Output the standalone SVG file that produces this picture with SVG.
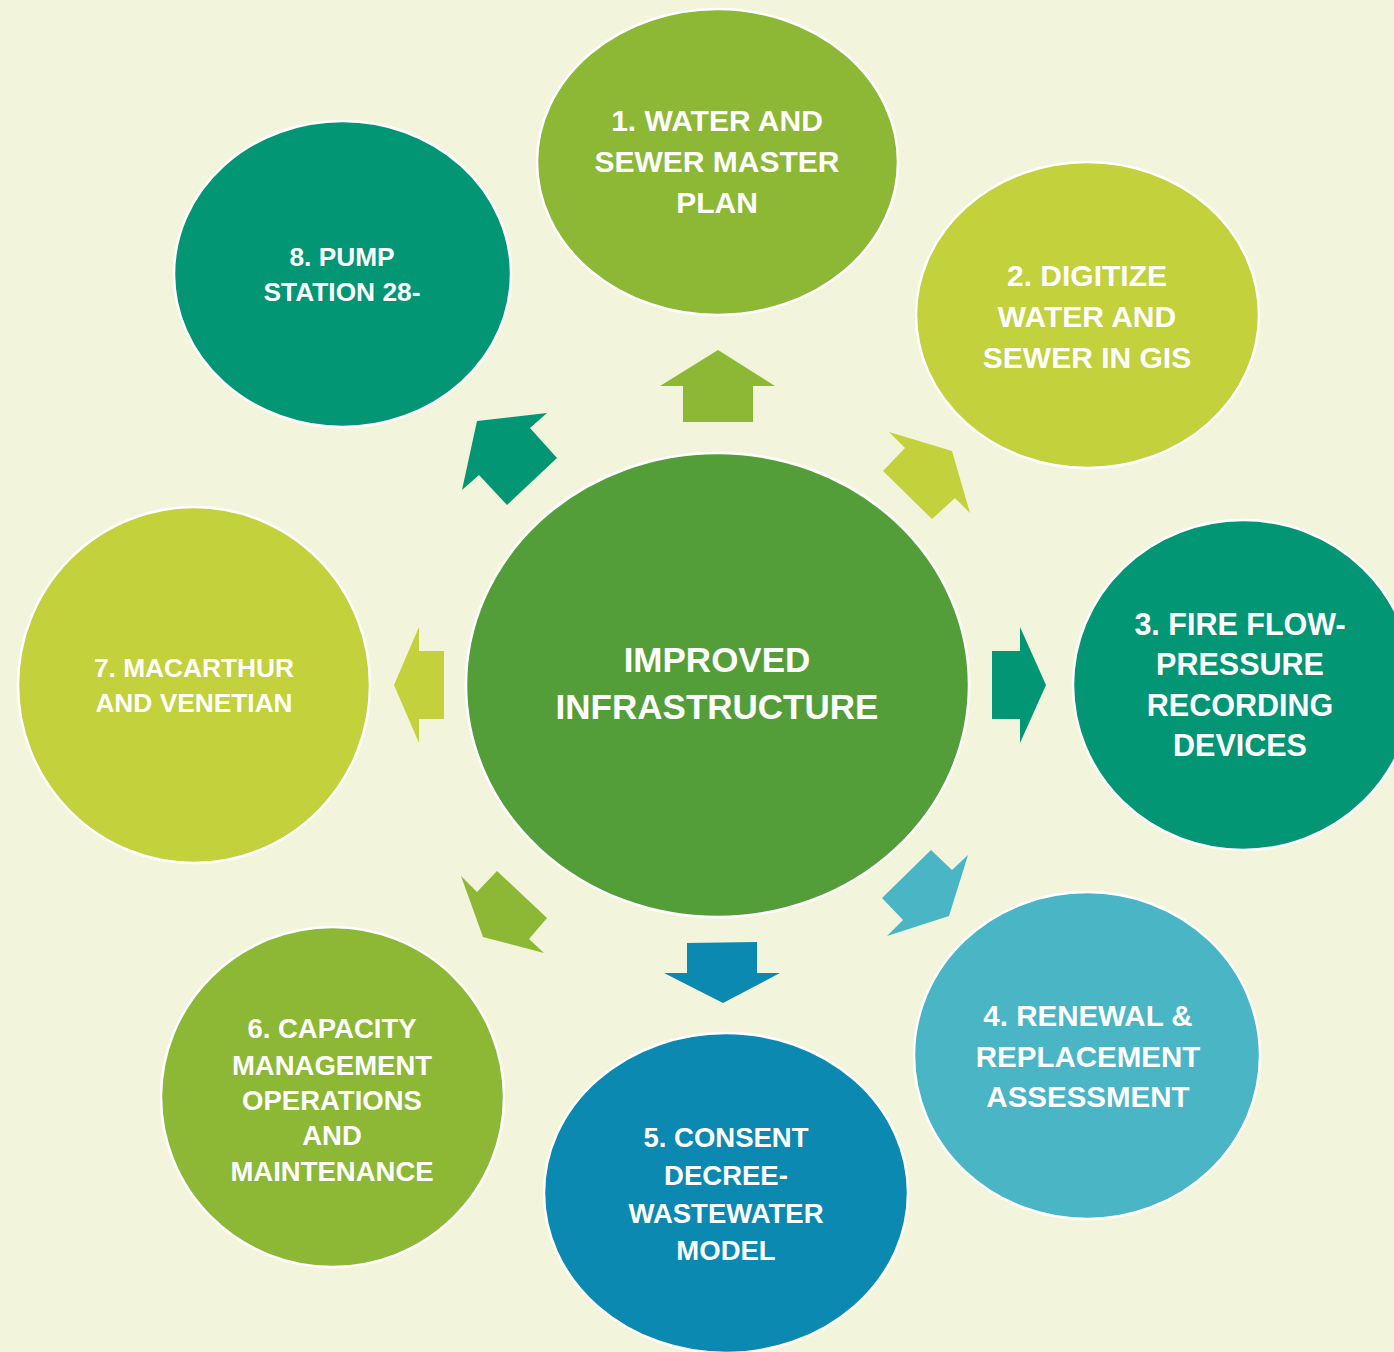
<svg xmlns="http://www.w3.org/2000/svg" width="1394" height="1352" viewBox="0 0 1394 1352">
<style>
.c{stroke:#ffffff;stroke-width:2.5}
.t{font-family:"Liberation Sans",Arial,sans-serif;font-weight:bold;fill:#ffffff;text-anchor:middle}
.g1{fill:#8cb836}.g2{fill:#c2d13c}.g3{fill:#029675}.g4{fill:#4ab5c5}.g5{fill:#0c89b1}.g0{fill:#549e39}
</style>
<rect width="1394" height="1352" fill="#f2f5db"/>
<g id="connectors">
<polygon class="g1" points="718,350 775,386 753,386 753,422 683,422 683,386 660,386"/>
<polygon class="g2" points="889,432 952,451 970,513 955,498 932,519 883,471 905,448"/>
<polygon class="g3" points="1046,685 1020,743 1020,719 992,719 992,651 1020,651 1020,627"/>
<polygon class="g4" points="968,855 949,916 887,936 903,920 882,898 931,850 952,870"/>
<polygon class="g5" points="723,1003 780,973 757,973 757,942 687,943 687,973 664,973"/>
<polygon class="g1" points="461,876 477,892 497,871 547,918 529,939 544,953 483,937"/>
<polygon class="g2" points="394,685 419,627 419,651 444,651 444,719 419,719 419,743"/>
<polygon class="g3" points="547,413 477,421 462,490 479,475 507,505 557,458 530,428"/>
</g>
<g id="center">
<ellipse class="c g0" cx="717.5" cy="685" rx="251.5" ry="232"/>
<text class="t" font-size="35"><tspan x="717" y="672">IMPROVED</tspan><tspan x="717" y="719">INFRASTRUCTURE</tspan></text>
</g>
<g id="node1">
<ellipse class="c g1" cx="717.5" cy="162" rx="180.5" ry="153"/>
<text class="t" font-size="30"><tspan x="717" y="131">1. WATER AND</tspan><tspan x="717" y="172">SEWER MASTER</tspan><tspan x="717" y="213">PLAN</tspan></text>
</g>
<g id="node2">
<ellipse class="c g2" cx="1087.5" cy="315" rx="171.5" ry="153"/>
<text class="t" font-size="30"><tspan x="1087" y="286">2. DIGITIZE</tspan><tspan x="1087" y="327">WATER AND</tspan><tspan x="1087" y="368">SEWER IN GIS</tspan></text>
</g>
<g id="node3">
<ellipse class="c g3" cx="1243" cy="685" rx="170" ry="165"/>
<text class="t" font-size="30.5"><tspan x="1240" y="635">3. FIRE FLOW-</tspan><tspan x="1240" y="675">PRESSURE</tspan><tspan x="1240" y="716">RECORDING</tspan><tspan x="1240" y="756">DEVICES</tspan></text>
</g>
<g id="node4">
<ellipse class="c g4" cx="1087" cy="1055.5" rx="173" ry="163.5"/>
<text class="t" font-size="29.5"><tspan x="1088" y="1026">4. RENEWAL &amp;</tspan><tspan x="1088" y="1067">REPLACEMENT</tspan><tspan x="1088" y="1107">ASSESSMENT</tspan></text>
</g>
<g id="node5">
<ellipse class="c g5" cx="726" cy="1193" rx="182" ry="160"/>
<text class="t" font-size="27.5"><tspan x="726" y="1147">5. CONSENT</tspan><tspan x="726" y="1185">DECREE-</tspan><tspan x="726" y="1223">WASTEWATER</tspan><tspan x="726" y="1260">MODEL</tspan></text>
</g>
<g id="node6">
<ellipse class="c g1" cx="332.5" cy="1097" rx="171.5" ry="170"/>
<text class="t" font-size="27.5"><tspan x="332" y="1038">6. CAPACITY</tspan><tspan x="332" y="1075">MANAGEMENT</tspan><tspan x="332" y="1110">OPERATIONS</tspan><tspan x="332" y="1145">AND</tspan><tspan x="332" y="1181">MAINTENANCE</tspan></text>
</g>
<g id="node7">
<ellipse class="c g2" cx="194" cy="685" rx="176" ry="178"/>
<text class="t" font-size="26.3"><tspan x="194" y="677">7. MACARTHUR</tspan><tspan x="194" y="712">AND VENETIAN</tspan></text>
</g>
<g id="node8">
<ellipse class="c g3" cx="342.5" cy="274" rx="168.5" ry="153"/>
<text class="t" font-size="26.3"><tspan x="342" y="266">8. PUMP</tspan><tspan x="342" y="301">STATION 28-</tspan></text>
</g>
</svg>
